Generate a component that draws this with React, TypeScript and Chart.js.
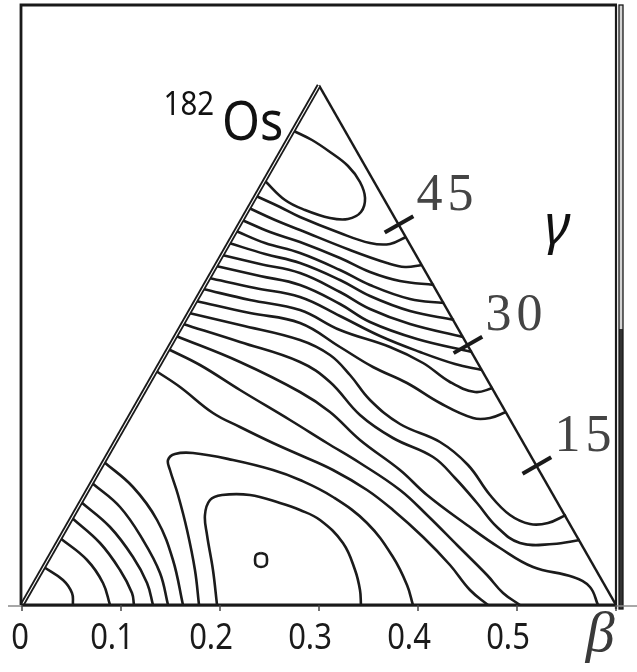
import React, { useEffect, useRef } from "react";
import { Chart, registerables } from "chart.js";
Chart.register(...registerables);

type P = [number, number];

const BETA_MAX = 0.6;
const xTickValues = [0, 0.1, 0.2, 0.3, 0.4, 0.5];
const xTickLabels = ["0", "0.1", "0.2", "0.3", "0.4", "0.5"];
const gammaTickValues = [15, 30, 45];
const gammaTickLabels = ["15", "30", "45"];

const leftEdge: P[] = [[0, 0], [0.3, 0.5196]];
const rightEdge: P[] = [[0.3, 0.5196], [0.6, 0]];

// contours near the spherical point
const arc1: P[] = [[0.022, 0.038], [0.0414, 0.025], [0.0505, 0.012], [0.0515, 0]];
const arc2: P[] = [[0.0384, 0.067], [0.0657, 0.045], [0.0818, 0.022], [0.0889, 0]];
const arc3: P[] = [[0.0505, 0.087], [0.0788, 0.062], [0.099, 0.035], [0.1111, 0.012], [0.1131, 0]];
const arc4: P[] = [[0.0596, 0.103], [0.0889, 0.078], [0.1121, 0.048], [0.1263, 0.022], [0.1323, 0]];
const arc5: P[] = [[0.0707, 0.122], [0.099, 0.098], [0.1222, 0.065], [0.1394, 0.032], [0.1475, 0]];
const arc6: P[] = [[0.0828, 0.143], [0.1121, 0.118], [0.1364, 0.085], [0.1525, 0.045], [0.1626, 0]];

// prolate valley
const valleyOuter: P[] = [[0.1788, 0], [0.1747, 0.035], [0.1667, 0.075], [0.1576, 0.11], [0.1495, 0.135], [0.1475, 0.145], [0.1545, 0.151], [0.1727, 0.152], [0.2131, 0.145], [0.2535, 0.135], [0.2808, 0.125], [0.3141, 0.108], [0.3485, 0.082], [0.3747, 0.048], [0.3889, 0.02], [0.3949, 0]];
const valleyInner: P[] = [[0.197, 0], [0.1929, 0.035], [0.1869, 0.07], [0.1848, 0.09], [0.1899, 0.105], [0.202, 0.11], [0.2303, 0.11], [0.2606, 0.102], [0.2808, 0.095], [0.301, 0.085], [0.3242, 0.062], [0.3364, 0.035], [0.3414, 0.015], [0.3424, 0]];
const minimumLoop: P[] = [[0.2414, 0.052], [0.2465, 0.05], [0.2475, 0.045], [0.2465, 0.04], [0.2414, 0.038], [0.2364, 0.04], [0.2354, 0.045], [0.2364, 0.05], [0.2414, 0.052]];

// oblate pocket
const topLoop: P[] = [[0.2747, 0.474], [0.2929, 0.465], [0.3111, 0.453], [0.3293, 0.439], [0.3414, 0.423], [0.3465, 0.407], [0.3424, 0.393], [0.3293, 0.386], [0.3111, 0.387], [0.2859, 0.395], [0.2657, 0.405], [0.2455, 0.424]];

// contours crossing from the gamma=60 edge
const c1: P[] = [[0.2364, 0.409], [0.2606, 0.398], [0.2808, 0.388], [0.3212, 0.372], [0.3515, 0.362], [0.3717, 0.361], [0.3879, 0.368]];
const c2: P[] = [[0.2293, 0.397], [0.2556, 0.385], [0.2808, 0.375], [0.3313, 0.355], [0.3687, 0.342], [0.3869, 0.338], [0.404, 0.34]];
const c3: P[] = [[0.2222, 0.385], [0.2505, 0.373], [0.2808, 0.363], [0.3212, 0.347], [0.3515, 0.333], [0.3818, 0.324], [0.4162, 0.32]];
const c4: P[] = [[0.2162, 0.374], [0.2455, 0.362], [0.2808, 0.352], [0.3212, 0.335], [0.3515, 0.32], [0.3919, 0.306], [0.4263, 0.302]];
const c5: P[] = [[0.2091, 0.362], [0.2455, 0.351], [0.2808, 0.342], [0.3212, 0.325], [0.3515, 0.309], [0.3919, 0.294], [0.4364, 0.285]];
const c6: P[] = [[0.202, 0.35], [0.2404, 0.341], [0.2808, 0.332], [0.3212, 0.313], [0.3515, 0.296], [0.3919, 0.281], [0.4455, 0.268]];
const c7: P[] = [[0.196, 0.339], [0.2404, 0.329], [0.2808, 0.32], [0.3212, 0.301], [0.3515, 0.283], [0.399, 0.266], [0.4545, 0.253]];
const c8: P[] = [[0.1889, 0.327], [0.2354, 0.317], [0.2808, 0.308], [0.3212, 0.289], [0.3616, 0.269], [0.402, 0.253], [0.4374, 0.241], [0.4646, 0.235]];
const c9: P[] = [[0.1828, 0.316], [0.2303, 0.305], [0.2808, 0.295], [0.3212, 0.275], [0.3717, 0.258], [0.4051, 0.242], [0.4323, 0.223], [0.4576, 0.213], [0.4758, 0.217]];
const c10: P[] = [[0.1758, 0.304], [0.2303, 0.292], [0.2808, 0.282], [0.3212, 0.258], [0.3545, 0.238], [0.3889, 0.222], [0.4222, 0.202], [0.4556, 0.187], [0.4727, 0.187], [0.4889, 0.193]];
const c11: P[] = [[0.1687, 0.292], [0.2202, 0.28], [0.2808, 0.265], [0.3111, 0.25], [0.3313, 0.23], [0.3515, 0.205], [0.3818, 0.181], [0.4222, 0.163], [0.4505, 0.14], [0.4727, 0.11], [0.4929, 0.09], [0.5131, 0.081], [0.5313, 0.082], [0.5495, 0.09]];
const c12: P[] = [[0.1626, 0.281], [0.2202, 0.263], [0.2808, 0.243], [0.3111, 0.223], [0.3414, 0.19], [0.3747, 0.167], [0.4152, 0.148], [0.4374, 0.127], [0.4596, 0.102], [0.4798, 0.078], [0.503, 0.062], [0.5364, 0.061], [0.5636, 0.065]];
const c13: P[] = [[0.1556, 0.269], [0.2202, 0.243], [0.2808, 0.213], [0.3111, 0.193], [0.3414, 0.165], [0.3818, 0.135], [0.4091, 0.11], [0.4495, 0.08], [0.4828, 0.057], [0.5162, 0.038], [0.5566, 0.028], [0.5737, 0.018], [0.5818, 0]];
const c14: P[] = [[0.1475, 0.256], [0.1798, 0.24], [0.2202, 0.215], [0.2707, 0.185], [0.3081, 0.162], [0.3414, 0.142], [0.3818, 0.115], [0.4091, 0.09], [0.4394, 0.06], [0.4697, 0.03], [0.4859, 0.012], [0.503, 0]];
const c15: P[] = [[0.1354, 0.234], [0.1596, 0.218], [0.1929, 0.192], [0.2202, 0.178], [0.2535, 0.162], [0.2808, 0.15], [0.3141, 0.135], [0.3485, 0.115], [0.3747, 0.095], [0.4051, 0.068], [0.4323, 0.04], [0.4525, 0.015], [0.4707, 0]];

const contours: P[][] = [
  arc1, arc2, arc3, arc4, arc5, arc6,
  valleyOuter, valleyInner, minimumLoop, topLoop,
  c1, c2, c3, c4, c5, c6, c7, c8, c9, c10, c11, c12, c13, c14, c15,
];

const SERIF = '"Liberation Serif", "Times New Roman", serif';
const SANS = '"Noto Sans", "Open Sans", sans-serif';

const toXY = (pts: P[]) => pts.map(([x, y]) => ({ x, y }));

function drawScaledText(ctx: CanvasRenderingContext2D, txt: string, x: number, y: number, sx: number) {
  ctx.save();
  ctx.translate(x, y);
  ctx.scale(sx, 1);
  ctx.fillText(txt, 0, 0);
  ctx.restore();
}

function drawSpaced(ctx: CanvasRenderingContext2D, txt: string, x: number, y: number, gap: number) {
  let cx = x;
  for (const ch of txt) {
    ctx.fillText(ch, cx, y);
    cx += ctx.measureText(ch).width + gap;
  }
}

const decorPlugin = {
  id: "decor",
  afterDraw(chart: any) {
    const { ctx, chartArea } = chart;
    const xs = chart.scales.x;
    const ys = chart.scales.y;
    const px = (v: number) => xs.getPixelForValue(v);
    const py = (v: number) => ys.getPixelForValue(v);
    const left = px(0);
    const right = px(BETA_MAX);
    const bottom = py(0);
    const top = chartArea.top;
    ctx.save();

    // frame
    ctx.strokeStyle = "#1a1a1a";
    ctx.lineWidth = 2.8;
    ctx.beginPath();
    ctx.moveTo(left - 1, bottom);
    ctx.lineTo(left - 1, top);
    ctx.lineTo(right + 1, top);
    ctx.stroke();
    ctx.lineWidth = 2.2;
    ctx.beginPath();
    ctx.moveTo(right, top);
    ctx.lineTo(right, bottom + 4);
    ctx.stroke();
    // right gauge bar
    const split = top + (bottom - top) * 0.54;
    ctx.fillStyle = "#d4d4d4";
    ctx.fillRect(right + 3, top, 4, split - top);
    ctx.fillStyle = "#333";
    ctx.fillRect(right + 3, split, 4, bottom - split + 4);
    ctx.lineWidth = 1.3;
    ctx.strokeStyle = "#1a1a1a";
    ctx.strokeRect(right + 3, top, 4, bottom - top + 4);

    // axis
    ctx.strokeStyle = "#8a8a8a";
    ctx.lineWidth = 1.5;
    ctx.beginPath();
    ctx.moveTo(8, bottom + 1);
    ctx.lineTo(chart.width, bottom + 1);
    ctx.stroke();
    ctx.strokeStyle = "#1a1a1a";
    ctx.lineWidth = 3.2;
    ctx.beginPath();
    ctx.moveTo(left, bottom);
    ctx.lineTo(right, bottom);
    ctx.stroke();
    ctx.lineWidth = 1.5;
    ctx.strokeStyle = "#444";
    xTickValues.concat([BETA_MAX]).forEach((v) => {
      ctx.beginPath();
      ctx.moveTo(px(v), bottom);
      ctx.lineTo(px(v), bottom + 6);
      ctx.stroke();
    });

    // tick labels
    ctx.fillStyle = "#1a1a1a";
    ctx.font = "36px " + SANS;
    ctx.textAlign = "center";
    ctx.textBaseline = "alphabetic";
    xTickValues.forEach((v, i) => {
      const lab = xTickLabels[i];
      const off = lab.length > 1 ? -9 : -2;
      drawScaledText(ctx, lab, px(v) + off, bottom + 44, 0.86);
    });

    // beta symbol
    ctx.fillStyle = "#3a3a3a";
    ctx.font = "italic 58px " + SERIF;
    ctx.textAlign = "center";
    ctx.fillText("\u03B2", px(0.584), bottom + 46);

    // gamma ticks on the outer edge
    const ax = px(0.6), ay = py(0), bx = px(0.3), by = py(0.5196);
    const el = Math.hypot(bx - ax, by - ay);
    let nx = -(by - ay) / el, ny = (bx - ax) / el;
    if (nx < 0) { nx = -nx; ny = -ny; }
    gammaTickValues.forEach((g, i) => {
      const r = (g * Math.PI) / 180;
      const t = BETA_MAX / (Math.cos(r) + Math.sin(r) / Math.sqrt(3));
      const cx = px(t * Math.cos(r));
      const cy = py(t * Math.sin(r));
      ctx.strokeStyle = "#1a1a1a";
      ctx.lineWidth = 4;
      ctx.beginPath();
      ctx.moveTo(cx - nx * 16, cy - ny * 16);
      ctx.lineTo(cx + nx * 17, cy + ny * 17);
      ctx.stroke();
      ctx.fillStyle = "#444";
      ctx.font = "52px " + SERIF;
      ctx.textAlign = "left";
      drawSpaced(ctx, gammaTickLabels[i], cx + 18, cy - 15, 5);
    });

    // gamma symbol
    ctx.fillStyle = "#111";
    ctx.font = "italic 54px " + SANS;
    ctx.textAlign = "center";
    ctx.fillText("\u03B3", px(0.541), py(0.367) + 6);

    // nucleus label
    ctx.textAlign = "left";
    ctx.fillStyle = "#111";
    ctx.font = "32px " + SANS;
    drawScaledText(ctx, "182", px(0.143), py(0.49), 0.92);
    ctx.font = "54px " + SANS;
    drawScaledText(ctx, "Os", px(0.202), py(0.465), 0.9);

    ctx.restore();
  },
};

export default function App() {
  const ref = useRef<HTMLCanvasElement | null>(null);
  useEffect(() => {
    if (!ref.current) return;
    const datasets: any[] = contours.map((pts) => ({
      data: toXY(pts),
      showLine: true,
      borderColor: "#1b1b1b",
      borderWidth: 2.6,
      pointRadius: 0,
      tension: 0.4,
      fill: false,
      order: 3,
    }));
    datasets.push({
      data: toXY(leftEdge), showLine: true, borderColor: "#1a1a1a", borderWidth: 4.8,
      pointRadius: 0, tension: 0, order: 1,
    });
    datasets.push({
      data: toXY(leftEdge), showLine: true, borderColor: "#ffffff", borderWidth: 1.1,
      pointRadius: 0, tension: 0, order: 0,
    });
    datasets.push({
      data: toXY(rightEdge), showLine: true, borderColor: "#1a1a1a", borderWidth: 2.4,
      pointRadius: 0, tension: 0, order: 1,
    });
    const chart = new Chart(ref.current, {
      type: "scatter",
      data: { datasets },
      options: {
        animation: false,
        responsive: false,
        layout: { padding: { left: 22, right: 21, top: 5, bottom: 67 } },
        scales: {
          x: { type: "linear", min: 0, max: 0.6, display: false },
          y: { type: "linear", min: 0, max: 0.6, display: false },
        },
        plugins: { legend: { display: false }, tooltip: { enabled: false } },
        elements: { point: { radius: 0 } },
      },
      plugins: [decorPlugin],
    });
    return () => { chart.destroy(); };
  }, []);
  return (
    <div style={{ position: "fixed", left: 0, top: 0, width: 637, height: 672, background: "#fff" }}>
      <canvas ref={ref} width={637} height={672} style={{ width: 637, height: 672, display: "block" }} />
    </div>
  );
}
